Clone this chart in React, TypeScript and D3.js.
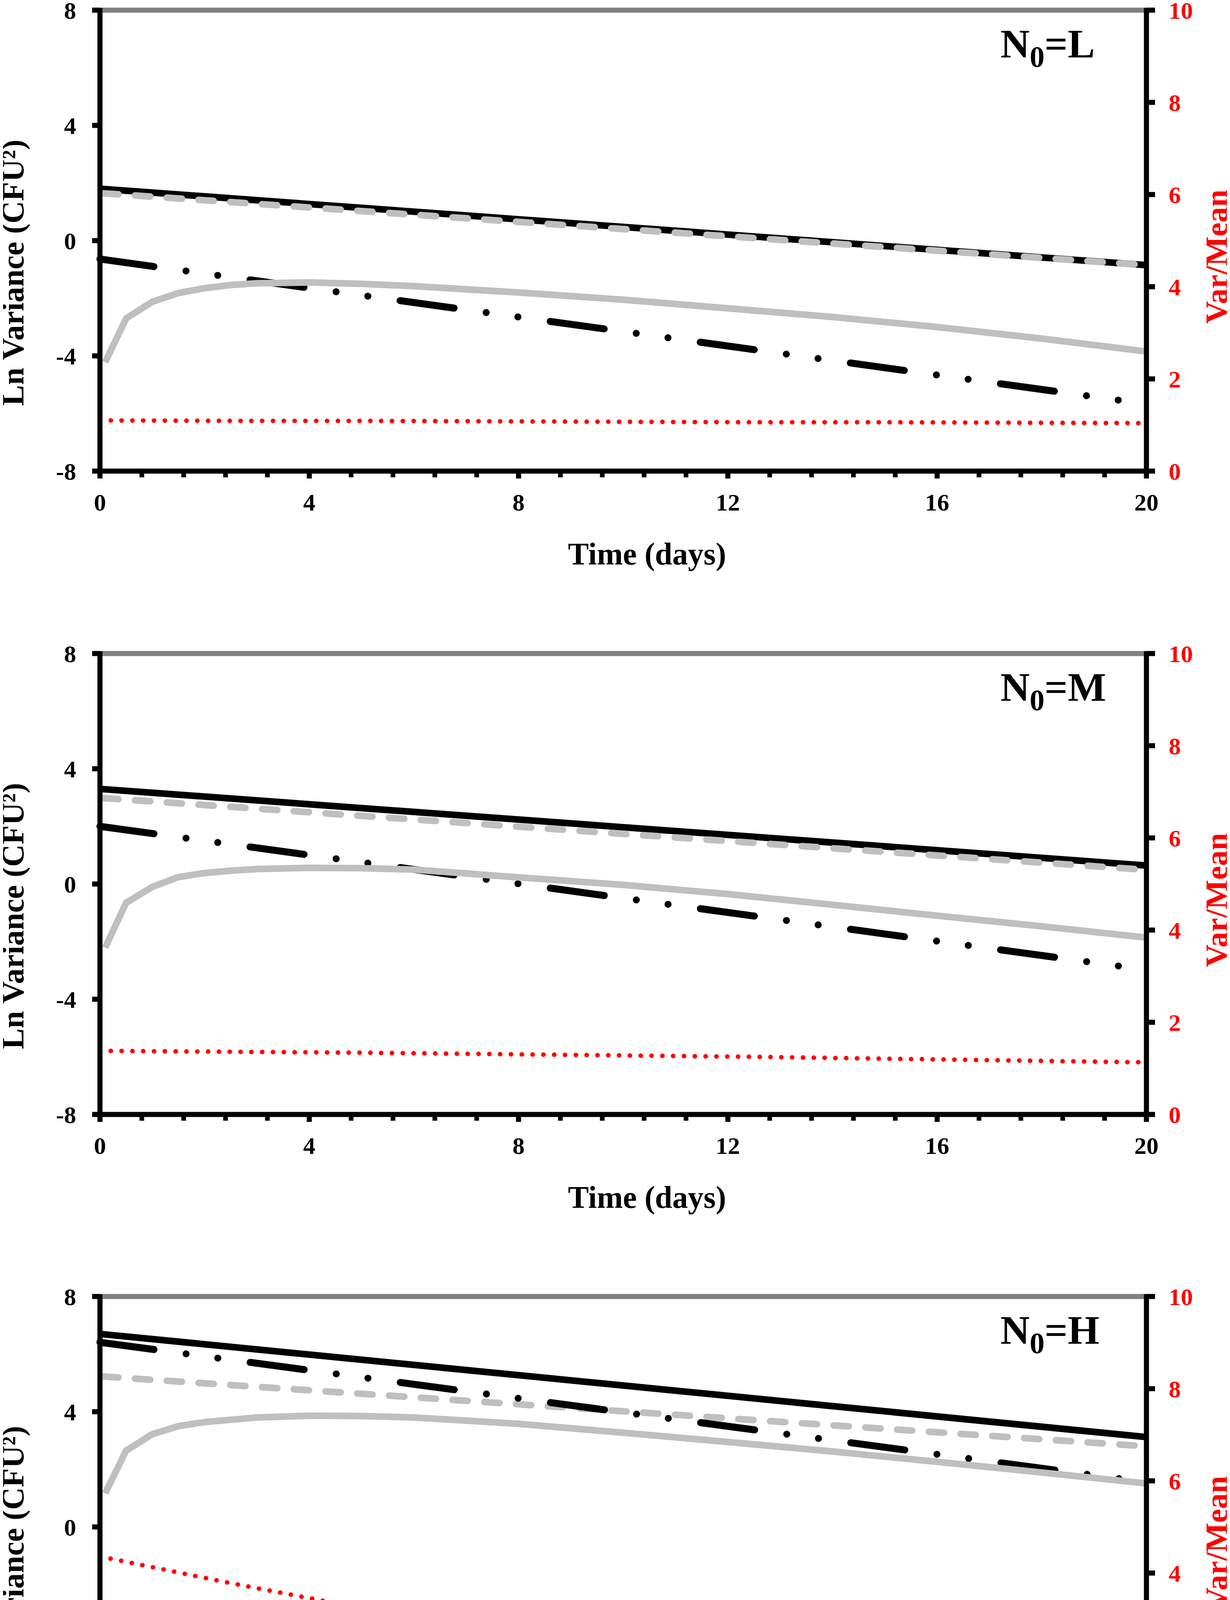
import React from 'react';
import * as d3 from 'd3';

// panel labels (N0 level)
const levels = ['L', 'M', 'H'];

// straight-line series, values at t = 0 and t = 20
const lineDays = [0, 20];
const solidBlack = [
  [1.8, -0.85],
  [3.3, 0.64],
  [6.7, 3.12],
];
const dashedGray = [
  [1.65, -0.85],
  [2.99, 0.49],
  [5.23, 2.8],
];
const dashDotBlack = [
  [-0.64, -5.67],
  [2.0, -2.98],
  [6.41, 1.55],
];

// curved grey series
const curveDays = [0.1, 0.5, 1, 1.5, 2, 2.5, 3, 4, 5, 6, 8, 10, 12, 14, 16, 18, 20];
const solidGray = [
  [-4.22, -2.7, -2.12, -1.82, -1.65, -1.54, -1.48, -1.45, -1.5, -1.58, -1.8, -2.05, -2.35, -2.65, -3.0, -3.4, -3.85],
  [-2.21, -0.65, -0.1, 0.24, 0.38, 0.46, 0.52, 0.56, 0.55, 0.5, 0.23, -0.03, -0.35, -0.72, -1.1, -1.47, -1.86],
  [1.17, 2.65, 3.22, 3.5, 3.64, 3.72, 3.8, 3.86, 3.85, 3.8, 3.58, 3.27, 2.95, 2.62, 2.26, 1.89, 1.51],
];

// Var/Mean (right axis)
const ratioDays = [0, 2.5, 5, 7.5, 10, 12.5, 15, 17.5, 20];
const varMean = [
  [1.1, 1.09, 1.09, 1.08, 1.07, 1.06, 1.06, 1.05, 1.04],
  [1.38, 1.36, 1.34, 1.31, 1.28, 1.25, 1.21, 1.17, 1.13],
  [4.36, 3.78, 3.24, 2.84, 2.5, 2.2, 1.94, 1.75, 1.6],
];

const xTicks = [0, 4, 8, 12, 16, 20];
const xMinor = d3.range(0, 20.001, 0.8);
const yLeftTicks = [-8, -4, 0, 4, 8];
const yRightTicks = [0, 2, 4, 6, 8, 10];

const W = 3150;
const H = 4755;
const tops = [26, 1673, 3319];
const plotH = 1180;
const font = '"Liberation Serif", "Times New Roman", Times, serif';
const red = '#ff0000';
const gray = '#bfbfbf';

const x = d3.scaleLinear().domain([0, 20]).range([256, 2936]);

const Panel: React.FC<{ i: number }> = ({ i }) => {
  const top = tops[i];
  const bottom = top + plotH;
  const yL = d3.scaleLinear().domain([-8, 8]).range([bottom, top]);
  const yR = d3.scaleLinear().domain([0, 10]).range([bottom, top]);

  const lineL = d3
    .line<[number, number]>()
    .x((d) => x(d[0]))
    .y((d) => yL(d[1]));
  const lineR = d3
    .line<[number, number]>()
    .x((d) => x(d[0]))
    .y((d) => yR(d[1]));

  const pts = (days: number[], vals: number[]) =>
    days.map((t, k) => [t, vals[k]] as [number, number]);

  const x0 = x(0);
  const x1 = x(20);

  return (
    <g>
      {/* data */}
      <path
        d={lineL(pts(lineDays, solidBlack[i])) || ''}
        fill="none"
        stroke="#000"
        strokeWidth={17}
      />
      <path
        d={lineL(pts(lineDays, dashedGray[i])) || ''}
        fill="none"
        stroke={gray}
        strokeWidth={17}
        strokeLinecap="round"
        strokeDasharray="39 42.5"
        strokeDashoffset={-8.5}
      />
      <path
        d={lineL(pts(lineDays, dashDotBlack[i])) || ''}
        fill="none"
        stroke="#000"
        strokeWidth={18}
        strokeLinecap="round"
        strokeDasharray="139.5 83 0 82 0 83.5"
      />
      <path
        d={lineL(pts(curveDays, solidGray[i])) || ''}
        fill="none"
        stroke={gray}
        strokeWidth={17}
        strokeLinejoin="round"
      />
      <path
        d={lineR(pts(ratioDays, varMean[i])) || ''}
        fill="none"
        stroke={red}
        strokeWidth={12}
        strokeLinecap="round"
        strokeDasharray="0 27.7"
      />

      {/* frame */}
      <line x1={x0} x2={x1} y1={top} y2={top} stroke="#808080" strokeWidth={13} />
      <line x1={x0} x2={x0} y1={top - 6} y2={bottom + 6} stroke="#000" strokeWidth={13} />
      <line x1={x1} x2={x1} y1={top - 6} y2={bottom + 6} stroke="#000" strokeWidth={13} />
      <line x1={x0 - 6} x2={x1 + 6} y1={bottom} y2={bottom} stroke="#000" strokeWidth={13} />

      {/* x ticks */}
      {xMinor.map((t) => (
        <line key={'m' + t} x1={x(t)} x2={x(t)} y1={bottom} y2={bottom + 16} stroke="#000" strokeWidth={12} />
      ))}
      {xTicks.map((t) => (
        <g key={'x' + t}>
          <line x1={x(t)} x2={x(t)} y1={bottom} y2={bottom + 19} stroke="#000" strokeWidth={13} />
          <text
            x={x(t)}
            y={bottom + 101}
            textAnchor="middle"
            fontSize={62}
            fontWeight="bold"
            fontFamily={font}
          >
            {t}
          </text>
        </g>
      ))}

      {/* left ticks */}
      {yLeftTicks.map((v) => (
        <g key={'l' + v}>
          <line x1={x0 - 20} x2={x0} y1={yL(v)} y2={yL(v)} stroke="#000" strokeWidth={13} />
          <text
            x={195}
            y={yL(v)}
            dy="0.35em"
            textAnchor="end"
            fontSize={62}
            fontWeight="bold"
            fontFamily={font}
          >
            {v}
          </text>
        </g>
      ))}

      {/* right ticks */}
      {yRightTicks.map((v) => (
        <g key={'r' + v}>
          <line x1={x1} x2={x1 + 22} y1={yR(v)} y2={yR(v)} stroke="#000" strokeWidth={13} />
          <text
            x={2993}
            y={yR(v)}
            dy="0.35em"
            textAnchor="start"
            fontSize={62}
            fontWeight="bold"
            fontFamily={font}
            fill={red}
          >
            {v}
          </text>
        </g>
      ))}

      {/* titles */}
      <text
        x={1657}
        y={bottom + 239}
        textAnchor="middle"
        fontSize={80}
        fontWeight="bold"
        fontFamily={font}
      >
        Time (days)
      </text>
      <text
        transform={`translate(60,${top + 672}) rotate(-90)`}
        textAnchor="middle"
        fontSize={80}
        fontWeight="bold"
        fontFamily={font}
      >
        Ln Variance (CFU²)
      </text>
      <text
        transform={`translate(3143,${top + 631}) rotate(-90)`}
        textAnchor="middle"
        fontSize={80}
        fontWeight="bold"
        fontFamily={font}
        fill={red}
      >
        Var/Mean
      </text>
      <text x={2562} y={top + 121} fontSize={104} fontWeight="bold" fontFamily={font}>
        <tspan>N</tspan>
        <tspan fontSize={76} dy={24}>
          0
        </tspan>
        <tspan dy={-24}>={levels[i]}</tspan>
      </text>
    </g>
  );
};

const App: React.FC = () => (
  <svg
    width={W}
    height={H}
    viewBox={`0 0 ${W} ${H}`}
    style={{ display: 'block', margin: -8, background: '#fff' }}
  >
    <rect width={W} height={H} fill="#fff" />
    {levels.map((_, i) => (
      <Panel key={i} i={i} />
    ))}
  </svg>
);

export default App;
